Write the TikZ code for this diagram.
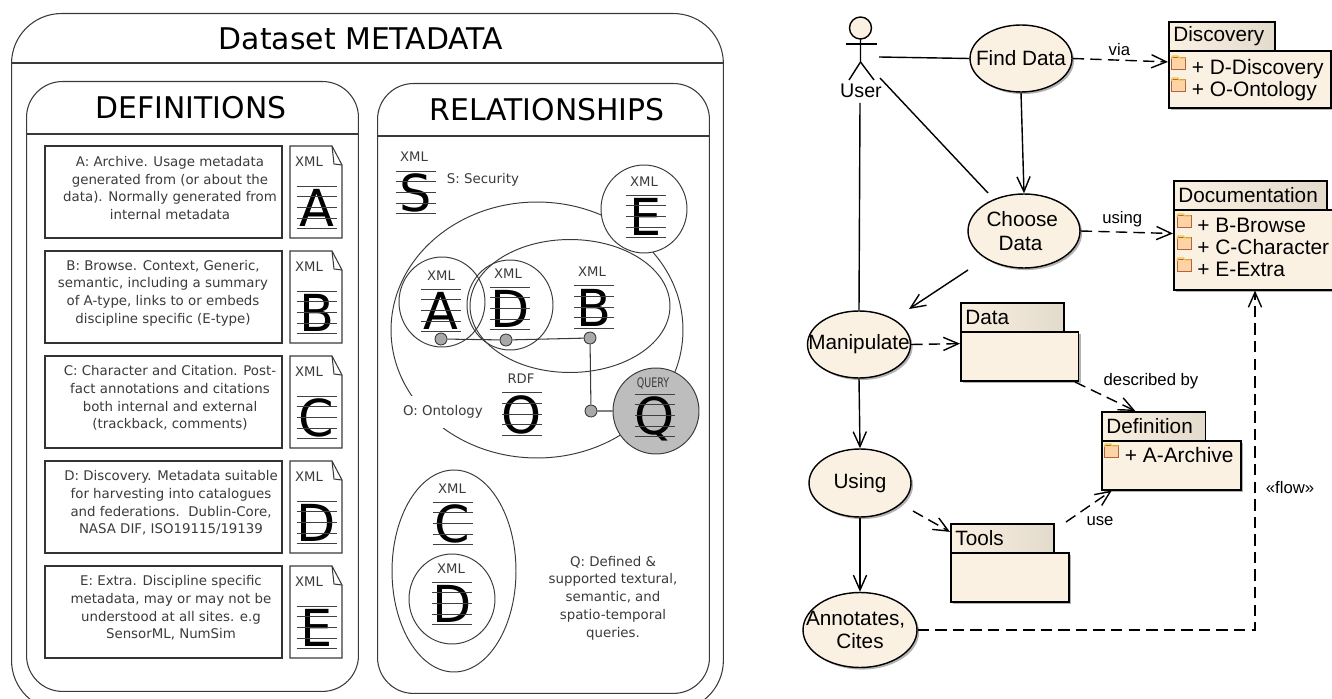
\documentclass[tikz,border=0pt]{standalone}
\usepackage{fontspec}
\setmainfont{Liberation Sans}
\newfontfamily\verafont{DejaVu Sans}
\usetikzlibrary{arrows.meta,shapes.geometric,shadows}

\definecolor{cream}{HTML}{FBF1E3}
\definecolor{tabend}{HTML}{E2DACB}
\definecolor{folderfill}{HTML}{FFD3A6}
\definecolor{folderedge}{HTML}{B0663A}
\definecolor{folderlid}{HTML}{F4C542}
\definecolor{queryfill}{HTML}{BDBDBD}
\definecolor{dotfill}{HTML}{A8A8A8}
\definecolor{inkgrey}{HTML}{3A3A3A}

\tikzset{
	panel/.style={draw=inkgrey, line width=0.6pt, inner sep=0pt, anchor=north west},
	panelrule/.style={draw=inkgrey, line width=0.6pt},
	paneltitle/.style={font=\verafont\fontsize{17}{20}\selectfont, inner sep=0pt},
	notebox/.style={draw=black!80, line width=0.6pt, minimum width=4.74cm, minimum height=1.84cm, inner sep=0pt},
	notetext/.style={font=\verafont\fontsize{7.6}{10.1}\selectfont, text=inkgrey, align=center, inner sep=0pt},
	tagtext/.style={font=\verafont\fontsize{7.5}{9}\selectfont, text=inkgrey, inner sep=0pt},
	bigletter/.style={font=\verafont\fontsize{29}{30}\selectfont, anchor=base, inner sep=0pt},
	staff/.style={draw=black!75, line width=0.55pt},
	blob/.style={draw=inkgrey, line width=0.55pt, ellipse, inner sep=0pt},
	dot/.style={draw=inkgrey, fill=dotfill, line width=0.5pt, circle, minimum size=0.24cm, inner sep=0pt},
	wire/.style={draw=inkgrey, line width=0.6pt},
	usecase/.style={draw=black, fill=cream, line width=0.8pt, ellipse, inner sep=-20pt, align=center, font=\fontsize{11.8}{13.2}\selectfont,
		drop shadow={shadow xshift=1.2pt, shadow yshift=-1.2pt, fill=black!50, opacity=0.6}},
	pkgtab/.style={draw=black, line width=0.9pt, anchor=north west, inner ysep=0pt, inner xsep=2.6pt, align=left, left color=cream, right color=tabend, font=\fontsize{11.8}{13.2}\selectfont},
	pkgbody/.style={draw=black, fill=cream, line width=0.9pt, anchor=north west, inner sep=0pt,
		drop shadow={shadow xshift=1.4pt, shadow yshift=-1.4pt, fill=black!50, opacity=0.6}},
	itemtext/.style={font=\fontsize{11.9}{13.2}\selectfont, anchor=west, inner sep=0pt, text height=8.5pt, text depth=2.5pt},
	assoc/.style={draw=black, line width=0.8pt},
	flowto/.style={assoc, -{Straight Barb[length=8.5pt, width=7.5pt]}},
	depend/.style={flowto, dash pattern=on 6.5pt off 3.5pt},
	linklabel/.style={font=\fontsize{9.5}{11}\selectfont, inner sep=0pt},
}

\newcommand{\defrow}[4]{
	\node[notebox] (#1Box) at (163.5, #2+46) {};
	\node[notetext] (#1Text) at (#3, #2+42) {#4};
	\draw[panelrule] (290, #2) -- (332, #2) -- (342, #2+19) -- (342, #2+92) -- (290, #2+92) -- cycle;
	\draw[panelrule] (332, #2) -- (334, #2+18) -- (342, #2+19);
	\node[tagtext] (#1Tag) at (309, #2+16) {XML};
	\stave{#1}{316.5}{#2+61.5}{#1}
}

\newcommand{\stave}[4]{
	\node[bigletter] (#1Letter) at (#2, #3+19) {#4};
	\foreach \k in {-2,...,2}
		\draw[staff] (#2-20, #3+\k*10.7) -- (#2+20, #3+\k*10.7);
}

\newcommand{\package}[7]{
	\node[pkgbody, minimum width=#5*0.02cm, minimum height=#6*0.02cm] (#1) at (#2, #3+29) {};
	\node[pkgtab, text width=#4*0.02cm-5.2pt, minimum height=0.58cm] (#1Tab) at (#2, #3) {#7};
}

\newcommand{\pkgitem}[4]{
	\draw[draw=folderedge, fill=folderfill, line width=0.5pt] (#2, #3-6) rectangle (#2+14, #3+6);
	\draw[draw=folderlid, line width=0.8pt] (#2, #3-4) -- (#2+1, #3-7) -- (#2+6, #3-7) -- (#2+8, #3-5) -- (#2+14, #3-5);
	\node[itemtext] (#1) at (#2+20, #3+6) {#4};
}

\begin{document}
\begin{tikzpicture}[x=0.02cm, y=-0.02cm]

	\useasboundingbox (0, 0) rectangle (1332, 699);

	\node[panel, rounded corners=1cm, minimum width=14.24cm, minimum height=13.94cm] (Outer) at (11, 13) {};
	\node[panel, rounded corners=0.72cm, minimum width=6.64cm, minimum height=12.2cm] (Definitions) at (26, 81) {};
	\node[panel, rounded corners=0.72cm, minimum width=6.64cm, minimum height=12.2cm] (Relationships) at (377, 83) {};
	\draw[panelrule] (Outer.west |- 0, 63) -- (Outer.east |- 0, 63);
	\draw[panelrule] (Definitions.west |- 0, 134) -- (Definitions.east |- 0, 134);
	\draw[panelrule] (Relationships.west |- 0, 136) -- (Relationships.east |- 0, 136);
	\node[paneltitle] (OuterTitle) at (361, 39) {Dataset METADATA};
	\node[paneltitle] (DefinitionsTitle) at (191, 108) {DEFINITIONS};
	\node[paneltitle] (RelationshipsTitle) at (547, 110) {RELATIONSHIPS};

	\defrow{A}{146}{170}{A: Archive. Usage metadata\\ generated from (or about the\\ data). Normally generated from\\ internal metadata}
	\defrow{B}{251}{163}{B: Browse. Context, Generic,\\ semantic, including a summary\\ of A-type, links to or embeds\\ discipline specific (E-type)}
	\defrow{C}{356}{170}{C: Character and Citation. Post-\\ fact annotations and citations\\ both internal and external\\ (trackback, comments)}
	\defrow{D}{461}{171}{D: Discovery. Metadata suitable\\ for harvesting into catalogues\\ and federations.\ \ Dublin-Core,\\ NASA DIF, ISO19115/19139}
	\defrow{E}{566}{171}{E: Extra. Discipline specific\\ metadata, may or may not be\\ understood at all sites. e.g\\ SensorML, NumSim}

	\node[blob, minimum width=5.84cm, minimum height=5.12cm] (Ontology) at (537, 330) {};
	\node[notetext, fill=white, inner xsep=3pt, minimum height=0.64cm] (OntologyText) at (443, 412) {O: Ontology};
	\node[blob, fill=white, minimum width=1.72cm, minimum height=1.76cm] (ExtraRing) at (644, 209) {};
	\node[blob, minimum width=4cm, minimum height=2.66cm] (BrowseRing) at (570, 306) {};
	\node[blob, minimum width=1.72cm, minimum height=1.8cm] (ArchiveRing) at (442, 302) {};
	\node[blob, minimum width=1.72cm, minimum height=1.8cm] (DiscoveryRing) at (510, 305) {};
	\node[blob, fill=queryfill, minimum width=1.72cm, minimum height=1.72cm] (QueryRing) at (656, 411) {};
	\node[blob, minimum width=2.48cm, minimum height=4.04cm] (CharacterRing) at (454, 571) {};
	\node[blob, minimum width=1.72cm, minimum height=1.8cm] (LowerRing) at (452, 599) {};

	\node[tagtext] (STag) at (414, 157) {XML};
	\stave{S}{415.5}{192.5}{S}
	\node[notetext] (SText) at (483, 180) {S: Security};
	\node[tagtext] (ETag) at (644, 182) {XML};
	\stave{RE}{646}{216.5}{E}
	\node[tagtext] (RATag) at (441, 276) {XML};
	\stave{RA}{441}{310.5}{A}
	\node[tagtext] (RDTag) at (508, 274) {XML};
	\stave{RD}{510}{308.5}{D}
	\node[tagtext] (RBTag) at (592, 272) {XML};
	\stave{RB}{594}{307}{B}
	\node[tagtext] (OTag) at (521, 379) {RDF};
	\stave{O}{522}{414}{O}
	\node[tagtext, xscale=0.72] (QTag) at (653, 383) {QUERY};
	\stave{Q}{655}{415.5}{Q}
	\node[tagtext] (RCTag) at (452, 489) {XML};
	\stave{RC}{452.5}{523.5}{C}
	\node[tagtext] (LDTag) at (451, 569) {XML};
	\stave{LD}{452}{603.5}{D}

	\node[dot] (ADot) at (441, 339) {};
	\node[dot] (DDot) at (506, 340) {};
	\node[dot] (BDot) at (590, 338) {};
	\node[dot] (QDot) at (591, 411) {};
	\draw[wire] (ADot) -- (DDot) -- (BDot) -- (QDot) -- (QueryRing);

	\node[notetext] (QText) at (613, 598) {Q: Defined \&\\ supported textural,\\ semantic, and\\ spatio-temporal\\ queries.};

	\draw[assoc, fill=cream] (860.5, 28) circle (11);
	\draw[assoc] (860.5, 39) -- (860.5, 62) -- (849, 80);
	\draw[assoc] (860.5, 62) -- (874, 80);
	\draw[assoc] (846, 44) -- (877, 44);
	\node[font=\fontsize{11.2}{13}\selectfont, inner sep=0pt] (User) at (861, 91) {User};
	\coordinate (UserFind) at (879, 57);
	\coordinate (UserChoose) at (880, 78);
	\coordinate (ChooseEnd) at (988, 193);
	\coordinate (UserManip) at (860, 103);

	\node[usecase, minimum width=2.04cm, minimum height=1.34cm] (Find) at (1021, 58.5) {Find Data};
	\node[usecase, minimum width=2.24cm, minimum height=1.48cm] (Choose) at (1024, 231) {Choose\hspace*{2pt}\\ Data\hspace*{4pt}};
	\node[usecase, minimum width=2.06cm, minimum height=1.34cm] (Manipulate) at (859, 344.5) {Manipulate};
	\node[usecase, minimum width=2.04cm, minimum height=1.36cm] (Using) at (860, 483) {Using};
	\node[usecase, minimum width=2.28cm, minimum height=1.5cm] (Annotates) at (860, 630) {Annotates,\hspace*{5pt}\\ Cites};

	\package{Discovery}{1168}{21}{106}{162}{57}{Discovery}
	\package{Documentation}{1173}{180}{153}{166}{80}{Documentation}
	\package{Data}{960}{302}{103}{117.5}{49}{Data}
	\package{Definition}{1101}{411}{103.5}{139}{49}{Definition}
	\package{Tools}{950}{523}{103}{118}{49}{Tools}

	\pkgitem{DDiscovery}{1171.5}{63}{+ D-Discovery}
	\pkgitem{OOntology}{1171.5}{85}{+ O-Ontology}
	\pkgitem{BBrowse}{1177}{221}{+ B-Browse}
	\pkgitem{CCharacter}{1177}{243}{+ C-Character}
	\pkgitem{EExtra}{1177}{265}{+ E-Extra}
	\pkgitem{AArchive}{1104.5}{451}{+ A-Archive}

	\coordinate (ChooseOut) at (968, 270);
	\coordinate (ManipIn) at (909, 309);
	\coordinate (DataOut) at (1075, 382);
	\coordinate (UsingOut) at (913, 511);
	\coordinate (ToolsOut) at (1066, 522);
	\coordinate (FlowBend) at (1255, 630);

	\draw[assoc] (UserFind) -- (Find.west);
	\draw[assoc] (UserChoose) -- (ChooseEnd);
	\draw[assoc] (UserManip) -- (Manipulate.north);
	\draw[flowto] (Find.south) -- (Choose.north);
	\draw[flowto] (ChooseOut) -- (ManipIn);
	\draw[flowto] (Manipulate.south) -- (Using.north);
	\draw[flowto] (Using.south) -- (Annotates.north);
	\draw[depend] (Find.east) -- (Discovery.168) node[linklabel, pos=0.49, above=2pt] (ViaLabel) {via};
	\draw[depend] (Choose.east) -- (Documentation.169) node[linklabel, pos=0.45, above=2.4pt] (UsingLabel) {using};
	\draw[depend] (Manipulate.east) -- (Data.168);
	\draw[depend] (DataOut) -- (DefinitionTab.140);
	\draw[depend] (UsingOut) -- (ToolsTab.173);
	\draw[depend] (ToolsOut) -- (Definition.203);
	\draw[depend] (Annotates.east) -- (FlowBend) -- (Documentation.south -| FlowBend);
	\node[linklabel] (DescribedLabel) at (1151, 381) {described by};
	\node[linklabel] (UseLabel) at (1100, 521) {use};
	\node[linklabel] (FlowLabel) at (1290, 488) {«flow»};

\end{tikzpicture}
\end{document}
